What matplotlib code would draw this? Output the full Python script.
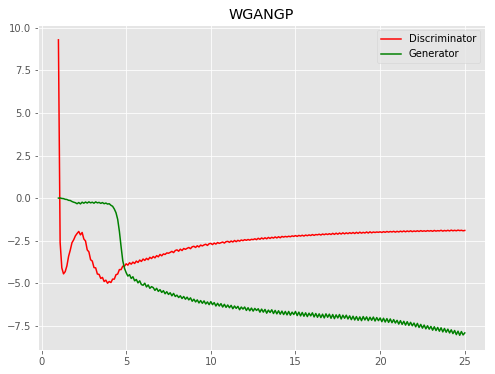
import numpy as np
import matplotlib
matplotlib.use("Agg")
import matplotlib.pyplot as plt

# epochs, sampled every 0.1
epochs = np.round(np.arange(1.0, 25.01, 0.1), 1)

disc_loss = [
    9.30, -2.60, -4.10, -4.45, -4.32, -3.98, -3.42, -3.05, -2.62, -2.45,
    -2.22, -2.08, -1.96, -2.16, -2.02, -2.40, -2.52, -3.04, -3.16, -3.62,
    -3.70, -4.08, -4.10, -4.46, -4.48, -4.72, -4.66, -4.90, -4.82, -5.00,
    -4.90, -4.96, -4.76, -4.76, -4.50, -4.46, -4.20, -4.20, -4.00, -4.00,
    -3.86, -3.94, -3.80, -3.88, -3.76, -3.84, -3.70, -3.78, -3.64, -3.72,
    -3.58, -3.66, -3.54, -3.62, -3.48, -3.55, -3.43, -3.51, -3.38, -3.45,
    -3.31, -3.39, -3.28, -3.31, -3.22, -3.24, -3.19, -3.13, -3.20, -3.08,
    -3.04, -3.12, -3.00, -3.08, -2.96, -3.01, -2.95, -2.90, -2.97, -2.86,
    -2.83, -2.90, -2.80, -2.87, -2.76, -2.81, -2.75, -2.71, -2.78, -2.68,
    -2.66, -2.73, -2.64, -2.70, -2.61, -2.66, -2.62, -2.58, -2.64, -2.56,
    -2.54, -2.60, -2.52, -2.58, -2.49, -2.56, -2.48, -2.53, -2.46, -2.50,
    -2.44, -2.48, -2.43, -2.47, -2.42, -2.44, -2.39, -2.44, -2.36, -2.42,
    -2.34, -2.40, -2.33, -2.39, -2.31, -2.37, -2.30, -2.35, -2.28, -2.34,
    -2.27, -2.33, -2.25, -2.29, -2.25, -2.28, -2.24, -2.27, -2.22, -2.25,
    -2.20, -2.25, -2.19, -2.23, -2.18, -2.23, -2.17, -2.21, -2.16, -2.20,
    -2.14, -2.19, -2.14, -2.16, -2.12, -2.17, -2.11, -2.15, -2.10, -2.14,
    -2.09, -2.14, -2.07, -2.13, -2.06, -2.12, -2.05, -2.11, -2.04, -2.10,
    -2.04, -2.09, -2.03, -2.08, -2.02, -2.08, -2.01, -2.07, -2.00, -2.06,
    -2.01, -2.05, -1.99, -2.05, -1.98, -2.04, -1.99, -2.02, -1.99, -2.01,
    -1.98, -2.02, -1.97, -2.01, -1.96, -2.00, -1.96, -1.99, -1.95, -2.00,
    -1.95, -1.99, -1.94, -1.98, -1.93, -1.98, -1.93, -1.97, -1.92, -1.97,
    -1.93, -1.96, -1.92, -1.96, -1.91, -1.95, -1.92, -1.95, -1.91, -1.94,
    -1.91, -1.95, -1.90, -1.94, -1.91, -1.93, -1.89, -1.94, -1.90, -1.93,
    -1.89, -1.93, -1.88, -1.92, -1.89, -1.92, -1.88, -1.91, -1.89, -1.92, -1.90,
]

gen_loss = [
    0.00, 0.01, -0.02, -0.03, -0.07, -0.08, -0.13, -0.14, -0.20, -0.24,
    -0.27, -0.33, -0.26, -0.34, -0.24, -0.30, -0.23, -0.29, -0.22, -0.28,
    -0.24, -0.30, -0.22, -0.28, -0.25, -0.31, -0.26, -0.33, -0.29, -0.35,
    -0.33, -0.42, -0.48, -0.64, -0.86, -1.25, -1.95, -2.85, -3.68, -4.12,
    -4.38, -4.58, -4.50, -4.72, -4.62, -4.86, -4.78, -4.98, -4.86, -5.08,
    -5.12, -5.00, -5.22, -5.10, -5.30, -5.20, -5.26, -5.42, -5.30, -5.48,
    -5.38, -5.54, -5.44, -5.62, -5.50, -5.66, -5.56, -5.74, -5.60, -5.78,
    -5.70, -5.84, -5.74, -5.90, -5.78, -5.94, -5.82, -5.98, -5.86, -6.06,
    -5.94, -6.10, -5.98, -6.16, -6.02, -6.18, -6.04, -6.22, -6.10, -6.26,
    -6.08, -6.26, -6.14, -6.34, -6.18, -6.34, -6.20, -6.40, -6.24, -6.42,
    -6.28, -6.44, -6.30, -6.50, -6.34, -6.48, -6.36, -6.56, -6.40, -6.52,
    -6.40, -6.60, -6.44, -6.62, -6.46, -6.64, -6.48, -6.60, -6.50, -6.70,
    -6.52, -6.70, -6.54, -6.76, -6.58, -6.72, -6.56, -6.78, -6.60, -6.80,
    -6.62, -6.82, -6.64, -6.84, -6.66, -6.86, -6.66, -6.88, -6.70, -6.84,
    -6.66, -6.90, -6.70, -6.92, -6.72, -6.94, -6.74, -6.96, -6.76, -6.92,
    -6.74, -6.98, -6.78, -7.00, -6.80, -7.02, -6.82, -7.04, -6.80, -7.00,
    -6.82, -7.06, -6.84, -7.08, -6.86, -7.04, -6.84, -7.10, -6.88, -7.06,
    -6.88, -7.10, -6.92, -7.14, -6.94, -7.16, -6.96, -7.18, -6.98, -7.20,
    -6.96, -7.16, -6.98, -7.20, -7.00, -7.18, -6.99, -7.22, -7.02, -7.20,
    -7.04, -7.26, -7.06, -7.28, -7.08, -7.30, -7.10, -7.32, -7.14, -7.34,
    -7.18, -7.40, -7.20, -7.42, -7.24, -7.46, -7.26, -7.48, -7.30, -7.50,
    -7.34, -7.56, -7.36, -7.60, -7.42, -7.64, -7.46, -7.68, -7.50, -7.70,
    -7.54, -7.76, -7.56, -7.78, -7.60, -7.82, -7.62, -7.86, -7.66, -7.88,
    -7.70, -7.92, -7.74, -7.96, -7.78, -8.02, -7.82, -8.06, -7.84, -8.04, -7.92,
]

plt.style.use("ggplot")

fig = plt.figure(figsize=(495 / 72, 374 / 72), dpi=72)
ax = fig.add_axes([0.077, 0.064, 0.903, 0.869])

ax.plot(epochs, disc_loss, color="r", label="Discriminator")
ax.plot(epochs, gen_loss, color="g", label="Generator")
ax.set_title("WGANGP")
ax.legend(loc="upper right")

fig.savefig("out.png", dpi=72)
